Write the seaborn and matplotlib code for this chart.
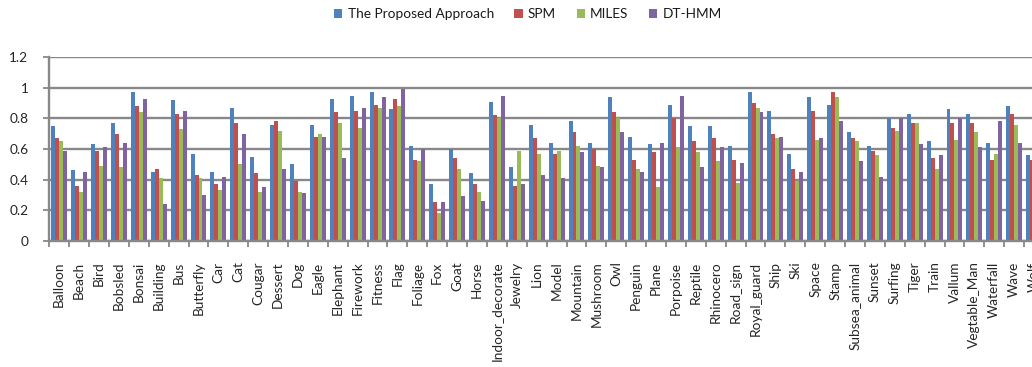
import numpy as np
import pandas as pd
import matplotlib
matplotlib.use("Agg")
import matplotlib.pyplot as plt
import seaborn as sns

categories = [
    "Balloon", "Beach", "Bird", "Bobsled", "Bonsai", "Building", "Bus", "Butterfly",
    "Car", "Cat", "Cougar", "Dessert", "Dog", "Eagle", "Elephant", "Firework",
    "Fitness", "Flag", "Foliage", "Fox", "Goat", "Horse", "Indoor_decorate",
    "Jewelry", "Lion", "Model", "Mountain", "Mushroom", "Owl", "Penguin", "Plane",
    "Porpoise", "Reptile", "Rhinocero", "Road_sign", "Royal_guard", "Ship", "Ski",
    "Space", "Stamp", "Subsea_animal", "Sunset", "Surfing", "Tiger", "Train",
    "Vallum", "Vegtable_Man", "Waterfall", "Wave", "Wolf",
]

proposed = [
    0.75, 0.46, 0.63, 0.77, 0.97, 0.45, 0.92, 0.57, 0.45, 0.87,
    0.55, 0.76, 0.50, 0.76, 0.93, 0.95, 0.97, 0.86, 0.62, 0.37,
    0.60, 0.44, 0.91, 0.48, 0.76, 0.64, 0.78, 0.64, 0.94, 0.68,
    0.63, 0.89, 0.75, 0.75, 0.62, 0.97, 0.85, 0.57, 0.94, 0.89,
    0.71, 0.62, 0.80, 0.83, 0.65, 0.86, 0.83, 0.64, 0.88, 0.56,
]
spm = [
    0.67, 0.36, 0.59, 0.70, 0.88, 0.47, 0.83, 0.43, 0.37, 0.77,
    0.44, 0.78, 0.39, 0.68, 0.84, 0.85, 0.89, 0.93, 0.53, 0.25,
    0.54, 0.37, 0.82, 0.36, 0.67, 0.57, 0.71, 0.60, 0.84, 0.53,
    0.58, 0.80, 0.65, 0.67, 0.53, 0.90, 0.70, 0.47, 0.85, 0.97,
    0.67, 0.59, 0.74, 0.77, 0.54, 0.77, 0.77, 0.53, 0.83, 0.53,
]
miles = [
    0.65, 0.32, 0.49, 0.48, 0.84, 0.41, 0.73, 0.41, 0.33, 0.50,
    0.32, 0.72, 0.32, 0.70, 0.77, 0.74, 0.87, 0.88, 0.52, 0.18,
    0.47, 0.32, 0.80, 0.59, 0.57, 0.59, 0.62, 0.49, 0.80, 0.47,
    0.35, 0.61, 0.58, 0.52, 0.38, 0.87, 0.67, 0.39, 0.66, 0.94,
    0.65, 0.56, 0.72, 0.77, 0.47, 0.66, 0.71, 0.57, 0.76, 0.50,
]
dt_hmm = [
    0.59, 0.45, 0.61, 0.64, 0.93, 0.24, 0.85, 0.30, 0.42, 0.70,
    0.35, 0.47, 0.31, 0.68, 0.54, 0.87, 0.94, 0.99, 0.60, 0.25,
    0.29, 0.26, 0.95, 0.37, 0.43, 0.41, 0.58, 0.48, 0.71, 0.45,
    0.64, 0.95, 0.48, 0.61, 0.51, 0.84, 0.68, 0.45, 0.67, 0.78,
    0.52, 0.42, 0.80, 0.63, 0.56, 0.80, 0.61, 0.78, 0.64, 0.47,
]

methods = ["The Proposed Approach", "SPM", "MILES", "DT-HMM"]
colors = ["#4F81BD", "#C0504D", "#9BBB59", "#8064A2"]

df = pd.DataFrame({
    "category": categories * 4,
    "method": np.repeat(methods, len(categories)),
    "value": proposed + spm + miles + dt_hmm,
})

sns.set_theme(style="white")
plt.rcParams["font.family"] = ["Lato", "DejaVu Sans"]
plt.rcParams["text.color"] = "#1a1a1a"

fs = 9.8
grid_col = "#888888"
fig = plt.figure(figsize=(10.32, 3.67), dpi=100)
# axes run slightly past the right edge of the canvas
ax = fig.add_axes([49.3 / 1032, 126.3 / 367, 994.7 / 1032, 183.4 / 367])

sns.barplot(
    data=df, x="category", y="value", hue="method", order=categories,
    hue_order=methods, palette=colors, width=0.8, saturation=1,
    linewidth=0, ax=ax,
)

ax.set_ylim(0, 1.2)
ax.set_xlim(-0.5, len(categories) - 0.5)
ax.set_yticks([0, 0.2, 0.4, 0.6, 0.8, 1.0, 1.2])
ax.set_yticklabels(["0", "0.2", "0.4", "0.6", "0.8", "1", "1.2"])
ax.set_xlabel("")
ax.set_ylabel("")

ax.set_axisbelow(True)
ax.yaxis.grid(True, color=grid_col, linewidth=1.7)
ax.xaxis.grid(False)
for side in ("top", "right"):
    ax.spines[side].set_visible(False)
for side in ("left", "bottom"):
    ax.spines[side].set_color(grid_col)
    ax.spines[side].set_linewidth(1.7)

ax.set_xticks(np.arange(len(categories)))
ax.set_xticklabels(categories, rotation=90, fontsize=fs)
ax.set_xticks(np.arange(-0.5, len(categories)), minor=True)
ax.tick_params(axis="x", which="major", length=0, pad=15)
ax.tick_params(axis="x", which="minor", length=4, width=1.3, color=grid_col,
               direction="out", bottom=True)
ax.tick_params(axis="y", length=4, width=1.3, color=grid_col, direction="out",
               left=True, pad=11, labelsize=fs)

sns.move_legend(
    ax, "center", bbox_to_anchor=((528 - 49.3) / 994.7, (353 - 126.3) / 183.4),
    ncol=4, frameon=False, title=None, fontsize=fs,
    handlelength=0.6, handleheight=0.6, handletextpad=0.4, columnspacing=1.5,
)

fig.savefig("out.png", dpi=100)
